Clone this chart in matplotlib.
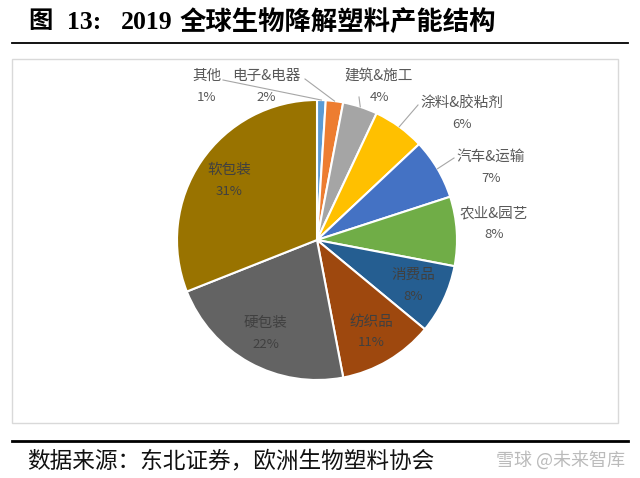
import matplotlib
matplotlib.use("Agg")
import matplotlib.pyplot as plt
import numpy as np
from matplotlib.patches import Rectangle

plt.rcParams['font.family'] = ['Noto Sans CJK SC', 'DejaVu Sans']

labels = ["其他", "电子&电器", "建筑&施工", "涂料&胶粘剂", "汽车&运输",
          "农业&园艺", "消费品", "纺织品", "硬包装", "软包装"]
values = [1, 2, 4, 6, 7, 8, 8, 11, 22, 31]
colors = ["#5B9BD5", "#ED7D31", "#A5A5A5", "#FFC000", "#4472C4",
          "#70AD47", "#255E91", "#9E480E", "#636363", "#997300"]

# layout in pixel coords (y measured from top)
W, H = 640, 478
cx, cy, r = 317, 240, 140
outside_pos = {
    "其他": (207, 76), "电子&电器": (266, 76), "建筑&施工": (379, 76),
    "涂料&胶粘剂": (462, 103), "汽车&运输": (491, 157), "农业&园艺": (494, 213),
}
leader_end = {
    "其他": (223, 80), "电子&电器": (305, 79), "建筑&施工": (359, 97),
    "涂料&胶粘剂": (418, 105), "汽车&运输": (454, 158),
}

fig = plt.figure(figsize=(6.4, 4.78), dpi=100)
ax = fig.add_axes([0, 0, 1, 1])

def fy(y):
    return H - y

wedges, _ = ax.pie(values, colors=colors, startangle=90, counterclock=False,
                   center=(cx, fy(cy)), radius=r, frame=True,
                   wedgeprops=dict(edgecolor='white', linewidth=1.5))
ax.set_xlim(0, W)
ax.set_ylim(0, H)
ax.set_aspect('equal')
ax.axis('off')

total = sum(values)
cum = 0
for lab, v in zip(labels, values):
    mid = (cum + v / 2) / total * 2 * np.pi
    cum += v
    pct = "%d%%" % round(v / total * 100)
    if lab in outside_pos:
        lx, ly = outside_pos[lab]
        ax.text(lx, fy(ly), lab, ha='center', va='center', fontsize=10.5, color='#595959')
        ax.text(lx, fy(ly + 21), pct, ha='center', va='center', fontsize=9.5, color='#595959')
        if lab in leader_end:
            ex, ey = leader_end[lab]
            px = cx + r * np.sin(mid)
            py = cy - r * np.cos(mid)
            ax.plot([px, ex], [fy(py), fy(ey)], color='#A6A6A6', lw=0.8)
    else:
        rr = 0.76 * r
        px = cx + rr * np.sin(mid)
        py = cy - rr * np.cos(mid)
        ax.text(px, fy(py - 10), lab, ha='center', va='center', fontsize=10.5, color='#404040')
        ax.text(px, fy(py + 11), pct, ha='center', va='center', fontsize=9.5, color='#404040')

# chart frame
ax.add_patch(Rectangle((12, fy(423)), 606, 364, fill=False, edgecolor='#D9D9D9', lw=1))

# title and rules
serif_cjk = ['Liberation Serif', 'Noto Sans CJK SC']
ax.text(28, fy(22), "图", ha='left', va='center', fontsize=17.5, fontweight='bold', family=serif_cjk)
ax.text(67, fy(22), "13:", ha='left', va='center', fontsize=18.5, fontweight='bold', family=serif_cjk)
ax.text(121, fy(22), "2019", ha='left', va='center', fontsize=18.5, fontweight='bold', family=serif_cjk)
ax.text(180, fy(22), "全球生物降解塑料产能结构", ha='left', va='center',
        fontsize=19, fontweight='bold', family=serif_cjk)
ax.plot([12, 628], [fy(42.5), fy(42.5)], color='black', lw=1.3)
ax.plot([12, 628], [fy(441), fy(441)], color='black', lw=2)
ax.text(27, fy(461), "数据来源：东北证券，欧洲生物塑料协会", ha='left', va='center',
        fontsize=16.3, color='#111111')
ax.text(625, fy(460), "雪球 @未来智库", ha='right', va='center',
        fontsize=13, color='#BBBBBB')

fig.savefig("out.png", dpi=100)
